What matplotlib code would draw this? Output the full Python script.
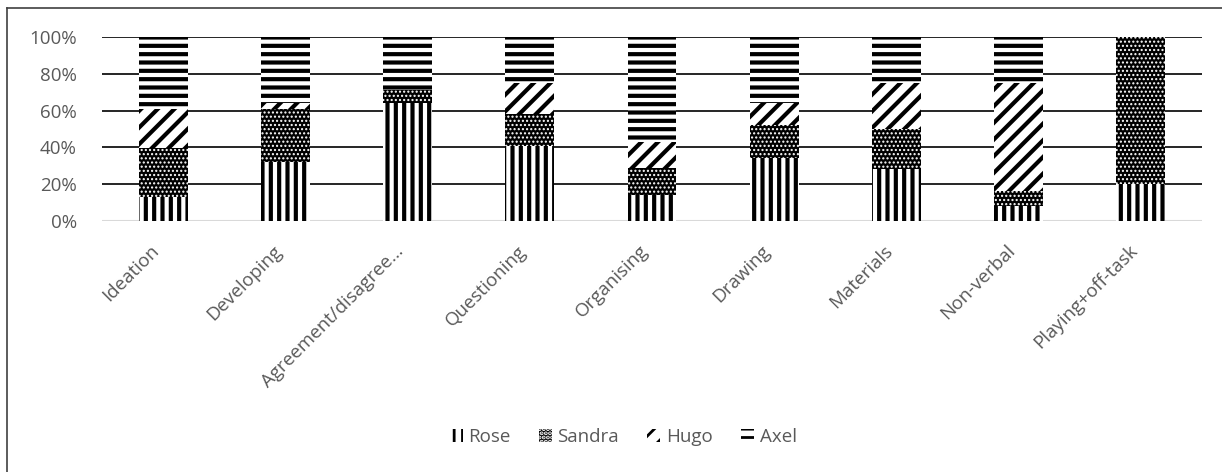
import matplotlib
matplotlib.use("Agg")
import matplotlib.pyplot as plt
from matplotlib.lines import Line2D
from matplotlib.patches import Patch
from matplotlib.transforms import ScaledTranslation
import numpy as np

categories = ["Ideation", "Developing", "Agreement/disagree\u2026", "Questioning",
              "Organising", "Drawing", "Materials", "Non-verbal", "Playing+off-task"]
rose   = [13.0, 32.0, 64.0, 41.0, 14.3, 34.0, 28.0,  8.0, 20.0]
sandra = [26.5, 29.0,  7.0, 17.0, 14.3, 18.0, 22.0,  8.5, 80.0]
hugo   = [21.5,  3.0,  0.0, 17.0, 14.3, 12.0, 25.0, 58.5,  0.0]
axel   = [39.0, 36.0, 29.0, 25.0, 57.1, 36.0, 25.0, 25.0,  0.0]
series_names = ["Rose", "Sandra", "Hugo", "Axel"]
yticks = [0, 20, 40, 60, 80, 100]

plt.rcParams["font.family"] = ["Open Sans", "DejaVu Sans"]
text_grey = "#595959"
fs = 13.5

fig = plt.figure(figsize=(12.22, 4.72), dpi=100)
ax = fig.add_axes([102 / 1222, 1 - 221 / 472, 1100 / 1222, 184 / 472])

data = np.array([rose, sandra, hugo, axel], dtype=float)
shares = data / data.sum(axis=0) * 100
x = np.arange(len(categories))

# (hatch, face, hatch colour, hatch line width)
styles = [
    ("||", "white", "black", 3.0),
    ("....", "black", "white", 1.0),
    ("//", "white", "black", 3.0),
    ("--", "white", "black", 3.0),
]

bottom = np.zeros(len(categories))
handles = []
for vals, name, (h, fc, hc, hlw) in zip(shares, series_names, styles):
    with plt.rc_context({"hatch.linewidth": hlw}):
        bars = ax.bar(x, vals, 0.4, bottom=bottom, color=fc, edgecolor=hc,
                      hatch=h, linewidth=0, zorder=3)
        for b in bars:
            if hasattr(b, "set_hatch_linewidth"):
                b.set_hatch_linewidth(hlw)
        hp = Patch(facecolor=fc, edgecolor=hc, hatch=h, linewidth=0, label=name)
        if hasattr(hp, "set_hatch_linewidth"):
            hp.set_hatch_linewidth(hlw)
    handles.append(hp)
    bottom += vals

ax.set_xlim(-0.5, len(categories) - 0.5)
ax.set_ylim(0, 100)
ax.set_yticks(yticks)
ax.set_yticklabels([f"{v}%" for v in yticks])
ax.set_xticks(x)
ax.set_xticklabels(categories, rotation=45, ha="right", rotation_mode="anchor")
ax.tick_params(axis="both", length=0, labelsize=fs, colors=text_grey)
ax.tick_params(axis="y", pad=18)
ax.tick_params(axis="x", pad=15)
shift = ScaledTranslation(-13 / 100, 0, fig.dpi_scale_trans)
for lab in ax.get_xticklabels():
    lab.set_transform(lab.get_transform() + shift)

for v in yticks[1:]:
    ax.axhline(v, color="black", linewidth=1.2, zorder=1)
ax.axhline(0, color="#d9d9d9", linewidth=1.5, zorder=2)
for s in ax.spines.values():
    s.set_visible(False)

with plt.rc_context({"hatch.linewidth": 2.0}):
    leg = fig.legend(handles=handles, loc="center", bbox_to_anchor=(623 / 1222, 1 - 437 / 472),
                     ncol=4, frameon=False, fontsize=fs, handlelength=0.7, handleheight=0.7,
                     handletextpad=0.3, columnspacing=1.5)
for t in leg.get_texts():
    t.set_color(text_grey)

# chart frame
fig.add_artist(Line2D([7 / 1222, 7 / 1222], [1 - 8 / 472, 0], color="#404040", lw=1.2))
fig.add_artist(Line2D([7 / 1222, 1], [1 - 8 / 472, 1 - 8 / 472], color="#404040", lw=1.2))

fig.savefig("out.png", dpi=100)
